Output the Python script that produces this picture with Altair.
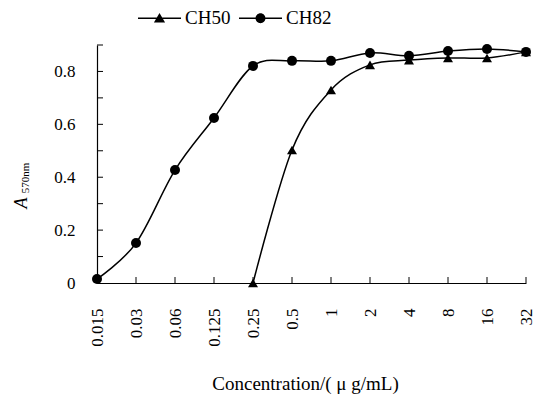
import altair as alt
import pandas as pd

# ---- data ----
concentrations = ["0.015", "0.03", "0.06", "0.125", "0.25", "0.5", "1", "2", "4", "8", "16", "32"]
ch82_values = [0.015, 0.151, 0.427, 0.624, 0.821, 0.840, 0.840, 0.870, 0.859, 0.877, 0.885, 0.874]
ch50_concentrations = ["0.25", "0.5", "1", "2", "4", "8", "16", "32"]
ch50_values = [0.0, 0.503, 0.730, 0.825, 0.843, 0.851, 0.851, 0.874]
series_names = ["CH50", "CH82"]
y_label_values = [0, 0.2, 0.4, 0.6, 0.8]
y_tick_values = [0.1, 0.2, 0.3, 0.4, 0.5, 0.6, 0.7, 0.8, 0.9]

rows = []
for c, v in zip(ch50_concentrations, ch50_values):
    rows.append({"conc": c, "series": "CH50", "value": v})
for c, v in zip(concentrations, ch82_values):
    rows.append({"conc": c, "series": "CH82", "value": v})
df = pd.DataFrame(rows)

FONT = "Liberation Serif"
W, H = 429, 238

x_scale = alt.Scale(type="point", padding=0, domain=concentrations)
y_scale = alt.Scale(domain=[0, 0.9], nice=False, zero=True)

x_axis = alt.Axis(
    title="Concentration/( \u03bc g/mL)", titleFont=FONT, titleFontSize=19,
    titleFontWeight="normal", titleColor="black",
    titleX=208, titleY=100, titleBaseline="middle", titleAlign="center",
    labelAngle=270, labelFont=FONT, labelFontSize=17, labelColor="black",
    labelPadding=25, ticks=False, domainColor="black", domainWidth=1.2,
    grid=False, labelOverlap=False,
)
y_axis = alt.Axis(
    title=None, values=y_label_values,
    labelExpr="datum.value == 0 ? '0' : format(datum.value, '.1f')",
    labelFont=FONT, labelFontSize=17, labelColor="black",
    labelPadding=22, ticks=False, domainColor="black", domainWidth=1.2,
    grid=False,
)

x_enc = alt.X("conc:N", sort=concentrations, scale=x_scale, axis=x_axis)
y_enc = alt.Y("value:Q", scale=y_scale, axis=y_axis)

lines = alt.Chart(df).mark_line(
    interpolate="cardinal", color="black", strokeWidth=1.5
).encode(x=x_enc, y=y_enc, detail="series:N")

points = alt.Chart(df).mark_point(
    filled=True, color="black", opacity=1, size=100
).encode(
    x=x_enc, y=y_enc,
    shape=alt.Shape("series:N", scale=alt.Scale(domain=series_names, range=["triangle-up", "circle"]), legend=None),
)

# legend symbols: a thin bar (the line) with the marker in its middle
tri_path = "M-1,-0.035L1,-0.035L1,0.035L-1,0.035ZM0,-0.25L0.26,0.2L-0.26,0.2Z"
cir_path = ("M-1,-0.035L1,-0.035L1,0.035L-1,0.035Z"
            "M0.23,0A0.23,0.23 0 1,1 -0.23,0A0.23,0.23 0 1,1 0.23,0Z")
legend_layer = alt.Chart(df).transform_filter("false").mark_point(
    filled=True, color="black", opacity=1
).encode(
    x=x_enc, y=y_enc,
    shape=alt.Shape(
        "series:N",
        scale=alt.Scale(domain=series_names, range=[tri_path, cir_path]),
        legend=alt.Legend(
            title=None, orient="none", direction="horizontal",
            legendX=40, legendY=-49.5, padding=0,
            symbolSize=1849, symbolFillColor="black", symbolOpacity=1,
            labelFont=FONT, labelFontSize=19, labelColor="black",
            labelOffset=3, columnPadding=5,
        ),
    ),
)

# inward tick marks
xtick_df = pd.DataFrame({"conc": concentrations})
x_ticks = alt.Chart(xtick_df).mark_rule(color="black", strokeWidth=1).encode(
    x=x_enc, y=alt.value(H), y2=alt.value(H - 6),
)
ytick_df = pd.DataFrame({"value": y_tick_values})
y_ticks = alt.Chart(ytick_df).mark_rule(color="black", strokeWidth=1).encode(
    y=y_enc, x=alt.value(0), x2=alt.value(6),
)

# y title: italic A with subscript 570nm
ytitle_main = alt.Chart(pd.DataFrame({"t": ["A"]})).mark_text(
    font=FONT, fontSize=18, fontStyle="italic", angle=270, color="black",
    align="center", baseline="middle",
).encode(text="t:N", x=alt.value(-75), y=alt.value(158))
ytitle_sub = alt.Chart(pd.DataFrame({"t": ["570nm"]})).mark_text(
    font=FONT, fontSize=11, angle=270, color="black",
    align="center", baseline="middle",
).encode(text="t:N", x=alt.value(-71), y=alt.value(133))

chart = alt.layer(
    lines, points, legend_layer, x_ticks, y_ticks, ytitle_main, ytitle_sub
).resolve_scale(shape="independent").properties(
    width=W, height=H,
    autosize=alt.AutoSizeParams(type="none"),
    padding={"left": 89, "top": 37, "right": 10, "bottom": 112},
).configure_view(stroke=None)

chart.save("out.html", embed_options={"renderer": "svg", "actions": False})
